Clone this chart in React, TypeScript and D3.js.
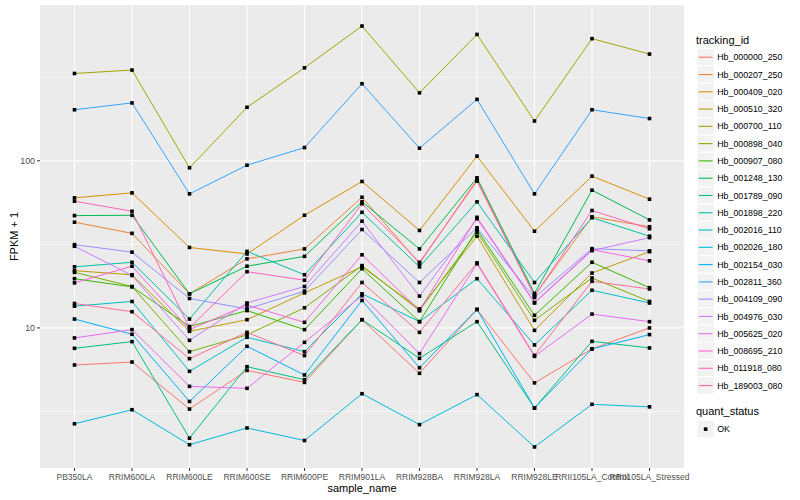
import React from 'react';
import { line, scaleLog, scalePoint } from 'd3';

const samples = [
  'PB350LA', 'RRIM600LA', 'RRIM600LE', 'RRIM600SE', 'RRIM600PE', 'RRIM901LA',
  'RRIM928BA', 'RRIM928LA', 'RRIM928LE', 'RRII105LA_Control', 'RRII105LA_Stressed',
];

const trackingIds = [
  'Hb_000000_250', 'Hb_000207_250', 'Hb_000409_020', 'Hb_000510_320', 'Hb_000700_110',
  'Hb_000898_040', 'Hb_000907_080', 'Hb_001248_130', 'Hb_001789_090', 'Hb_001898_220',
  'Hb_002016_110', 'Hb_002026_180', 'Hb_002154_030', 'Hb_002811_360', 'Hb_004109_090',
  'Hb_004976_030', 'Hb_005625_020', 'Hb_008695_210', 'Hb_011918_080', 'Hb_189003_080',
];

// ggplot hue palette, 20 colours
const palette = [
  '#F8766D', '#EA8331', '#D89000', '#C09B00', '#A3A500', '#7CAE00', '#39B600', '#00BB4E',
  '#00BF7D', '#00C1A3', '#00BFC4', '#00BAE0', '#00B0F6', '#35A2FF', '#9590FF', '#C77CFF',
  '#E76BF3', '#FA62DB', '#FF62BC', '#FF6C91',
];

// FPKM + 1, one row per tracking_id, one column per sample
const fpkm = [
  [6.0, 6.25, 3.27, 5.57, 4.72, 11.2, 5.35, 12.9, 4.69, 7.49, 10.0],
  [42.9, 36.8, 16.0, 25.9, 29.7, 60.5, 24.3, 77.3, 15.6, 46.2, 40.3],
  [60.0, 64.3, 30.3, 27.7, 47.2, 75.2, 38.3, 106.6, 37.9, 80.9, 58.9],
  [22.0, 20.8, 9.54, 11.2, 16.2, 23.2, 13.0, 35.4, 9.67, 21.3, 28.6],
  [333, 349, 90.8, 209, 360, 640, 255, 570, 173, 538, 435],
  [21.5, 17.7, 7.21, 9.08, 13.2, 23.6, 12.7, 37.4, 11.1, 19.9, 14.4],
  [19.7, 17.6, 10.2, 12.7, 9.77, 22.6, 10.9, 38.8, 11.9, 24.7, 17.4],
  [47.0, 47.2, 16.0, 23.4, 26.8, 56.8, 29.7, 79.1, 16.1, 66.7, 44.3],
  [7.55, 8.28, 2.19, 5.86, 4.9, 11.2, 6.58, 10.9, 3.32, 8.31, 7.59],
  [23.2, 24.7, 11.3, 28.7, 20.8, 49.2, 23.2, 56.8, 18.7, 45.6, 35.4],
  [13.5, 14.4, 5.5, 8.79, 7.21, 16.0, 10.9, 19.7, 7.91, 16.8, 14.1],
  [2.67, 3.24, 2.0, 2.52, 2.12, 4.04, 2.64, 3.99, 1.94, 3.49, 3.37],
  [11.3, 9.16, 3.63, 7.76, 5.23, 14.6, 5.78, 12.9, 3.32, 7.49, 9.12],
  [202, 222, 63.4, 94.1, 120, 289, 119, 233, 63.4, 202, 179],
  [31.5, 28.4, 15.0, 13.0, 16.6, 38.8, 18.7, 39.7, 15.2, 29.8, 28.9],
  [30.8, 20.6, 8.43, 14.1, 17.7, 43.5, 15.5, 45.0, 14.1, 29.0, 34.7],
  [8.71, 9.77, 4.47, 4.35, 8.2, 15.6, 7.02, 24.2, 6.76, 12.1, 10.9],
  [18.6, 23.4, 9.77, 13.7, 10.8, 27.4, 12.7, 45.9, 14.2, 29.4, 25.2],
  [57.3, 49.9, 10.0, 21.7, 19.3, 55.3, 24.7, 75.5, 15.5, 50.4, 39.2],
  [14.0, 12.5, 6.55, 9.41, 6.83, 18.7, 9.41, 24.5, 6.85, 19.0, 17.1],
];

const yTicks = [10, 100];
const yMinor = [Math.sqrt(10), Math.sqrt(1000), Math.sqrt(100000)];
const quantStatus = ['OK'];

const W = 800, H = 500;
const panel = { left: 40, right: 684, top: 5, bottom: 468 };
const font = '"Liberation Sans", Arial, Helvetica, sans-serif';

export default function App() {
  const all = fpkm.flat();
  const lo = Math.log10(Math.min(...all));
  const hi = Math.log10(Math.max(...all));
  const pad = (hi - lo) * 0.05;

  const x = scalePoint<string>().domain(samples).range([panel.left, panel.right]).padding(0.6);
  const y = scaleLog().domain([10 ** (lo - pad), 10 ** (hi + pad)]).range([panel.bottom, panel.top]);

  const path = line<number>()
    .x((_, i) => x(samples[i]) as number)
    .y((d) => y(d));

  const keyH = 17.28;
  const legendX = 697;
  const keyTop = 48.6;

  return (
    <svg width={W} height={H} style={{ position: 'absolute', left: 0, top: 0 }} fontFamily={font}>
      <rect width={W} height={H} fill="white" />
      <rect x={panel.left} y={panel.top} width={panel.right - panel.left} height={panel.bottom - panel.top} fill="#EBEBEB" />
      {yMinor.filter((v) => y(v) > panel.top && y(v) < panel.bottom).map((v) => (
        <line key={'m' + v} x1={panel.left} x2={panel.right} y1={y(v)} y2={y(v)} stroke="white" strokeWidth={0.55} />
      ))}
      {yTicks.map((v) => (
        <line key={'g' + v} x1={panel.left} x2={panel.right} y1={y(v)} y2={y(v)} stroke="white" strokeWidth={1.1} />
      ))}
      {samples.map((s) => (
        <line key={'gx' + s} x1={x(s)} x2={x(s)} y1={panel.top} y2={panel.bottom} stroke="white" strokeWidth={1.1} />
      ))}

      {fpkm.map((row, i) => (
        <path key={trackingIds[i]} d={path(row) as string} fill="none" stroke={palette[i]} strokeWidth={1} />
      ))}
      {fpkm.map((row, i) =>
        row.map((v, j) => (
          <rect key={i + '-' + j} x={(x(samples[j]) as number) - 1.8} y={y(v) - 1.8} width={3.6} height={3.6} fill="black" />
        ))
      )}

      {/* y axis */}
      {yTicks.map((v) => (
        <g key={'t' + v}>
          <line x1={panel.left - 3} x2={panel.left} y1={y(v)} y2={y(v)} stroke="#333333" strokeWidth={1} />
          <text x={panel.left - 5} y={y(v)} dy="0.35em" textAnchor="end" fontSize={8.8} fill="#4D4D4D">{v}</text>
        </g>
      ))}
      <text transform={`translate(14, ${(panel.top + panel.bottom) / 2}) rotate(-90)`} textAnchor="middle" dy="0.35em" fontSize={11} fill="black">
        FPKM + 1
      </text>

      {/* x axis */}
      {samples.map((s) => (
        <g key={'xt' + s}>
          <line x1={x(s)} x2={x(s)} y1={panel.bottom} y2={panel.bottom + 3} stroke="#333333" strokeWidth={1} />
          <text x={x(s)} y={panel.bottom + 12} textAnchor="middle" fontSize={8.5} fill="#4D4D4D">{s}</text>
        </g>
      ))}
      <text x={(panel.left + panel.right) / 2} y={492} textAnchor="middle" fontSize={11} fill="black">sample_name</text>

      {/* legend */}
      <text x={696} y={44} fontSize={11} fill="black">tracking_id</text>
      {trackingIds.map((id, i) => {
        const ky = keyTop + i * keyH;
        return (
          <g key={'lg' + id}>
            <rect x={legendX} y={ky} width={keyH} height={keyH} fill="#F2F2F2" stroke="white" strokeWidth={1} />
            <line x1={legendX + 1.7} x2={legendX + keyH - 1.7} y1={ky + keyH / 2} y2={ky + keyH / 2} stroke={palette[i]} strokeWidth={1.1} />
            <text x={legendX + keyH + 3} y={ky + keyH / 2} dy="0.35em" fontSize={8.8} fill="black">{id}</text>
          </g>
        );
      })}
      <text x={696} y={415} fontSize={11} fill="black">quant_status</text>
      {quantStatus.map((q, i) => {
        const ky = 420.5 + i * keyH;
        return (
          <g key={'qs' + q}>
            <rect x={legendX} y={ky} width={keyH} height={keyH} fill="#F2F2F2" stroke="white" strokeWidth={1} />
            <rect x={legendX + keyH / 2 - 1.8} y={ky + keyH / 2 - 1.8} width={3.6} height={3.6} fill="black" />
            <text x={legendX + keyH + 3} y={ky + keyH / 2} dy="0.35em" fontSize={8.8} fill="black">{q}</text>
          </g>
        );
      })}
    </svg>
  );
}
